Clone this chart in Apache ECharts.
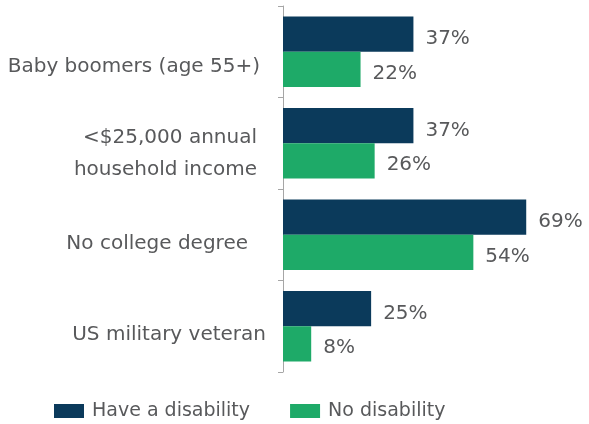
<!DOCTYPE html>
<html><head><meta charset="utf-8">
<script src="https://cdn.jsdelivr.net/npm/echarts@6/dist/echarts.min.js"></script>
<style>html,body{margin:0;padding:0;background:#fff}#c{width:589px;height:424px}</style>
</head><body><div id="c"></div>
<script>
const categories = ["Baby boomers (age 55+)", "<$25,000 annual\nhousehold income", "No college degree", "US military veteran"];
const haveDisability = [37, 37, 69, 25];
const noDisability = [22, 26, 54, 8];
const seriesNames = ["Have a disability", "No disability"];

const FONT = "DejaVu Sans";
const GRAY = "#58595b";
const chart = echarts.init(document.getElementById('c'), null, {renderer: 'canvas'});
const labelKeys = ['a', 'b', 'c', 'd'];
const base = {fontFamily: FONT, fontSize: 20, color: GRAY, lineHeight: 32, align: 'right'};
chart.setOption({
  animation: false,
  grid: {left: 283, top: 6, width: 282, height: 366},
  legend: {
    left: 54, top: 401, padding: 0, itemWidth: 30, itemHeight: 14, itemGap: 40,
    icon: 'rect',
    textStyle: {fontFamily: FONT, fontSize: 19, color: GRAY, padding: [0, 0, 0, 3], lineHeight: 20},
    data: seriesNames
  },
  xAxis: {type: 'value', min: 0, max: 80, show: false},
  yAxis: {
    type: 'category', inverse: true, data: categories,
    axisLine: {show: true, lineStyle: {color: '#a6a6a6', width: 1}},
    axisTick: {show: true, inside: false, length: 5, alignWithLabel: false, lineStyle: {color: '#a6a6a6', width: 1}},
    axisLabel: {
      margin: 17,
      formatter: (v, i) => '{' + labelKeys[i] + '|' + v.split('\n').join('}\n{' + labelKeys[i] + '|') + '}',
      rich: {
        a: Object.assign({}, base, {padding: [30, 6, 0, 0]}),
        b: Object.assign({}, base, {padding: [22, 9, 0, 0]}),
        c: Object.assign({}, base, {padding: [18, 18, 0, 0]}),
        d: Object.assign({}, base, {padding: [18, 0, 0, 0]})
      }
    }
  },
  series: [
    {name: seriesNames[0], type: 'bar', data: haveDisability, barGap: '0%', barCategoryGap: '23%',
     itemStyle: {color: '#0b3a5b'},
     label: {show: true, position: 'right', distance: 12, offset: [0, 5], formatter: '{c}%', fontFamily: FONT, fontSize: 20, color: GRAY}},
    {name: seriesNames[1], type: 'bar', data: noDisability, barGap: '0%', barCategoryGap: '23%',
     itemStyle: {color: '#1eaa68'},
     label: {show: true, position: 'right', distance: 12, offset: [0, 4], formatter: '{c}%', fontFamily: FONT, fontSize: 20, color: GRAY}}
  ]
});
</script></body></html>
